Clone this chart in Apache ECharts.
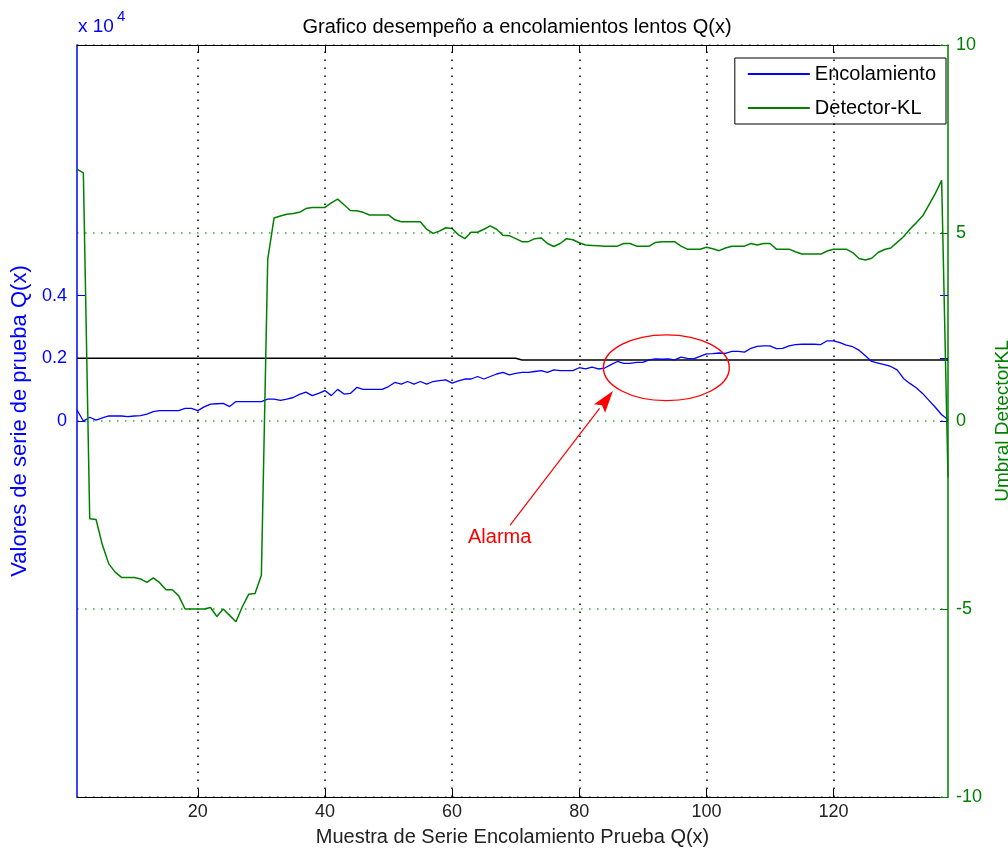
<!DOCTYPE html>
<html><head><meta charset="utf-8">
<script src="https://cdn.jsdelivr.net/npm/echarts@6/dist/echarts.min.js"></script>
<style>html,body{margin:0;padding:0;background:#fff}#c{width:1008px;height:851px}</style>
</head><body><div id="c"></div>
<script>
// Encolamiento (queue values, raw units; axis shows x 10^4), sample 1..138
const encolamiento = [350,0,120,30,100,160,160,160,140,160,170,220,300,330,330,330,330,400,400,330,
450,540,550,560,460,620,620,620,620,620,700,700,660,700,750,850,920,810,880,970,
810,1010,860,880,1070,1010,1010,1010,1010,1100,1230,1180,1260,1180,1260,1180,1260,1290,1310,1210,
1280,1340,1340,1420,1340,1420,1500,1550,1470,1520,1550,1550,1580,1610,1550,1630,1610,1610,1610,1700,
1660,1720,1660,1690,1800,1900,1840,1840,1870,1870,1950,1980,1970,1980,1950,2040,2000,1980,2060,2140,
2150,2170,2160,2220,2220,2200,2320,2380,2400,2400,2310,2320,2400,2440,2450,2450,2450,2440,2560,2560,
2500,2420,2370,2260,2080,1900,1850,1800,1740,1630,1360,1200,1060,880,660,440,200,50];
// Detector-KL (right axis)
const detectorKL = [6.7,6.6,-2.6,-2.62,-3.3,-3.8,-4.02,-4.16,-4.16,-4.16,-4.2,-4.29,-4.17,-4.3,-4.49,-4.49,-4.65,-5.0,-5.0,-5.0,
-5.0,-4.96,-5.2,-5.0,-5.17,-5.34,-4.94,-4.61,-4.59,-4.1,4.3,5.4,5.45,5.5,5.52,5.55,5.65,5.68,5.68,5.68,
5.8,5.9,5.75,5.6,5.59,5.55,5.48,5.48,5.48,5.48,5.35,5.3,5.3,5.3,5.3,5.1,4.99,5.05,5.14,5.12,
4.95,4.85,5.02,5.02,5.1,5.19,5.1,4.94,4.93,4.85,4.77,4.77,4.85,4.87,4.72,4.64,4.72,4.85,4.82,4.74,
4.68,4.67,4.66,4.65,4.65,4.65,4.72,4.72,4.65,4.65,4.65,4.75,4.77,4.77,4.77,4.65,4.57,4.57,4.57,4.62,
4.58,4.53,4.6,4.65,4.65,4.65,4.72,4.68,4.72,4.72,4.57,4.57,4.57,4.5,4.44,4.44,4.44,4.44,4.52,4.57,
4.57,4.57,4.48,4.32,4.28,4.33,4.48,4.56,4.6,4.75,4.9,5.1,5.27,5.45,5.75,6.05,6.4,-1.5];
const thresholdX = [1,70,71,138];
const thresholdY = [2000,2000,1950,1950];
const xTicks = [20,40,60,80,100,120];
const leftTicks = [0,2000,4000];
const alarmEllipse = {x:93.7, y:1700, rx:9.9, ry:1050};
const alarmArrowTail = [69.1,-3330];
const alarmArrowTip = [85.3,960];
const alarmText = [62.5,-3710];

const BLUE='#0000ff', GREEN='#008000', GDOT='#33aa33';
const chart = echarts.init(document.getElementById('c'));
const font = 'Liberation Sans, Arial, sans-serif';
const option = {
  animation:false,
  textStyle:{fontFamily:font},
  title:{text:'Grafico desempeño a encolamientos lentos Q(x)', left:512, top:12, textAlign:'center',
    textStyle:{fontSize:20,fontWeight:'normal',color:'#000',fontFamily:font}},
  legend:{data:['Encolamiento','Detector-KL'], orient:'vertical', right:62, top:58,
    borderColor:'#000', borderWidth:1, backgroundColor:'#fff', padding:[6,10,6,12],
    itemWidth:62, itemHeight:14, itemGap:14, itemStyle:{opacity:0},
    textStyle:{fontSize:20,color:'#000',fontFamily:font}},
  grid:{left:77,right:60,top:45,bottom:54,containLabel:false,outerBoundsMode:'none'},
  xAxis:[
    {type:'value',min:1,max:138,position:'bottom',
     axisLine:{onZero:false,lineStyle:{color:'#000',width:1}},
     axisTick:{inside:true,length:8,customValues:xTicks,lineStyle:{color:'#000'}},
     axisLabel:{customValues:xTicks,fontSize:18,color:'#222',margin:6,fontFamily:font},
     splitLine:{show:false},
     name:'Muestra de Serie Encolamiento Prueba Q(x)',nameLocation:'middle',nameGap:30,
     nameTextStyle:{fontSize:20,color:'#222',fontFamily:font}},
    {type:'value',min:1,max:138,position:'top',
     axisLine:{onZero:false,lineStyle:{color:'#000',width:1}},
     axisTick:{inside:true,length:8,customValues:xTicks,lineStyle:{color:'#000'}},
     axisLabel:{show:false},splitLine:{show:false}}
  ],
  yAxis:[
    {type:'value',min:-12000,max:12000,interval:2000,position:'left',
     axisLine:{show:true,onZero:false,lineStyle:{color:BLUE,width:1.5}},
     axisTick:{show:true,inside:true,length:8,customValues:leftTicks,lineStyle:{color:BLUE}},
     axisLabel:{customValues:leftTicks,formatter:v=>String(v/10000),fontSize:18,color:BLUE,margin:10,fontFamily:font},
     splitLine:{show:false},
     name:'Valores de serie de prueba Q(x)',nameLocation:'middle',nameGap:46,
     nameTextStyle:{fontSize:22,color:BLUE,fontFamily:font}},
    {type:'value',min:-10,max:10,interval:5,position:'right',
     axisLine:{show:true,onZero:false,lineStyle:{color:GREEN,width:1.5}},
     axisTick:{show:true,inside:true,length:8,lineStyle:{color:GREEN}},
     axisLabel:{fontSize:18,color:GREEN,margin:8,fontFamily:font},
     splitLine:{show:true,lineStyle:{color:GDOT,width:1.5,type:[1.5,6.5]}},
     name:'Umbral DetectorKL',nameLocation:'middle',nameGap:36,
     nameTextStyle:{fontSize:19,color:GREEN,fontFamily:font}},
    {type:'value',min:-12000,max:12000,interval:2000,position:'right',
     axisLine:{show:false,onZero:false},
     axisTick:{show:true,inside:true,length:8,customValues:leftTicks,lineStyle:{color:BLUE}},
     axisLabel:{show:false},splitLine:{show:false}}
  ],
  series:[
    {name:'umbral',type:'line',xAxisIndex:0,yAxisIndex:0,symbol:'none',z:2,
     data:thresholdX.map((x,i)=>[x,thresholdY[i]]),lineStyle:{color:'#000',width:1.5},itemStyle:{color:'#000'},
     markLine:{silent:true,symbol:'none',label:{show:false},
       lineStyle:{color:'#000',width:1.5,type:[1.5,6.5]},
       data:xTicks.map(v=>({xAxis:v}))}},
    {name:'Encolamiento',type:'line',xAxisIndex:0,yAxisIndex:0,symbol:'none',z:3,
     data:encolamiento.map((v,i)=>[i+1,v]),lineStyle:{color:BLUE,width:1.3},itemStyle:{color:BLUE}},
    {name:'Detector-KL',type:'line',xAxisIndex:0,yAxisIndex:1,symbol:'none',z:4,
     data:detectorKL.map((v,i)=>[i+1,v]),lineStyle:{color:GREEN,width:1.5},itemStyle:{color:'#2a9a2a'}}
  ]
};
chart.setOption(option);

function px(p){return chart.convertToPixel({xAxisIndex:0,yAxisIndex:0},p);}
const c = px([alarmEllipse.x,alarmEllipse.y]);
const e1 = px([alarmEllipse.x+alarmEllipse.rx, alarmEllipse.y+alarmEllipse.ry]);
const tail = px(alarmArrowTail), tip = px(alarmArrowTip), tp = px(alarmText);
const dx = tip[0]-tail[0], dy = tip[1]-tail[1], L = Math.hypot(dx,dy), ux=dx/L, uy=dy/L;
const hl = 22, hw = 7;
const base = [tip[0]-ux*hl, tip[1]-uy*hl];
const head = [[tip[0],tip[1]],[base[0]-uy*hw, base[1]+ux*hw],[base[0]+ux*4, base[1]+uy*4],[base[0]+uy*hw, base[1]-ux*hw]];
chart.setOption({graphic:[
  {type:'text',left:78,top:17,style:{text:'x 10',fontSize:19,fill:BLUE,fontFamily:font}},
  {type:'text',left:117,top:9,style:{text:'4',fontSize:15,fill:BLUE,fontFamily:font}},
  {type:'ellipse',shape:{cx:c[0],cy:c[1],rx:e1[0]-c[0],ry:c[1]-e1[1]},style:{fill:null,stroke:'#ff0000',lineWidth:1.4},z:10},
  {type:'line',shape:{x1:tail[0],y1:tail[1],x2:base[0],y2:base[1]},style:{stroke:'#ff0000',lineWidth:1.2},z:10},
  {type:'polygon',shape:{points:head},style:{fill:'#ff0000'},z:10},
  {type:'text',x:tp[0],y:tp[1],style:{text:'Alarma',fontSize:20,fill:'#ff0000',fontFamily:font,verticalAlign:'middle',align:'left'},z:10}
]});
</script></body></html>
